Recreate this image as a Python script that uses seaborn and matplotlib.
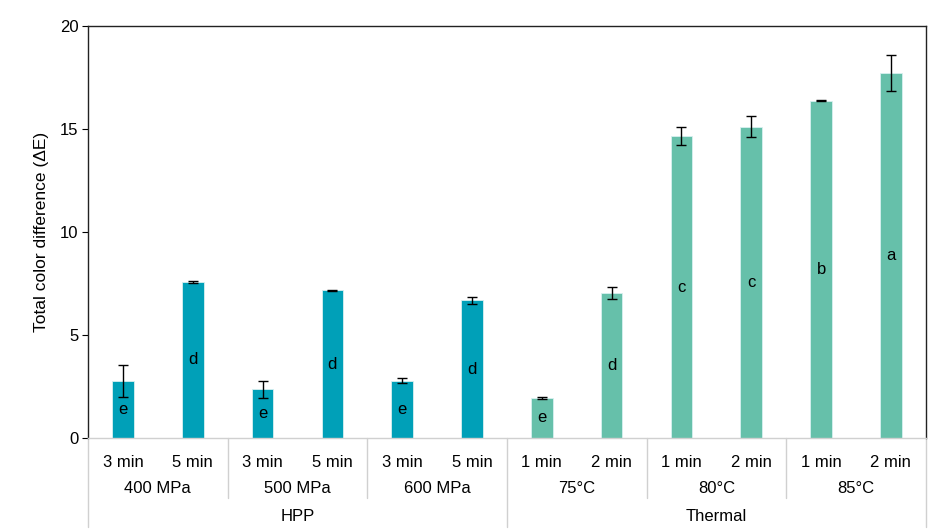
import pandas as pd
import matplotlib.pyplot as plt
import matplotlib.transforms as mtransforms
import seaborn as sns

# -----------------------------------------------
# Data
# -----------------------------------------------
times = ["3 min", "5 min", "3 min", "5 min", "3 min", "5 min",
         "1 min", "2 min", "1 min", "2 min", "1 min", "2 min"]
conditions = ["400 MPa", "500 MPa", "600 MPa", "75°C", "80°C", "85°C"]
methods = ["HPP", "Thermal"]
delta_e = [2.76, 7.59, 2.36, 7.17, 2.78, 6.68,
           1.95, 7.03, 14.66, 15.12, 16.38, 17.73]
sd = [0.77, 0.04, 0.42, 0.03, 0.13, 0.15,
      0.04, 0.29, 0.44, 0.50, 0.03, 0.86]
letters = ["e", "d", "e", "d", "e", "d", "e", "d", "c", "c", "b", "a"]
method_of_bar = ["HPP"] * 6 + ["Thermal"] * 6
colors = {"HPP": "#00A0B8", "Thermal": "#66C0AA"}

df = pd.DataFrame({
    "pos": list(range(len(delta_e))),
    "dE": delta_e,
    "method": method_of_bar,
})

# -----------------------------------------------
# Plot
# -----------------------------------------------
sns.set_style("white")
plt.rcParams["font.family"] = ["Liberation Sans", "DejaVu Sans"]
plt.rcParams["text.color"] = "black"
plt.rcParams["axes.labelcolor"] = "black"
plt.rcParams["xtick.color"] = "black"
plt.rcParams["ytick.color"] = "black"

fig = plt.figure(figsize=(9.33, 5.31), dpi=100)
ax = fig.add_axes([0.0943, 0.175, 0.898, 0.776])

sns.barplot(data=df, x="pos", y="dE", hue="method", palette=colors,
            dodge=False, width=0.31, legend=False, ax=ax, saturation=1,
            edgecolor="#d8f0f0", linewidth=0.6)

ax.errorbar(df["pos"], df["dE"], yerr=sd, fmt="none", ecolor="black",
            elinewidth=1, capsize=3.5, capthick=1, zorder=5)

# significance letters at half bar height
for i, (v, lt) in enumerate(zip(delta_e, letters)):
    ax.text(i, v / 2, lt, ha="center", va="center", fontsize=12)

ax.set_ylim(0, 20)
ax.set_xlim(-0.5, len(delta_e) - 0.5)
ax.set_yticks([0, 5, 10, 15, 20])
ax.tick_params(axis="y", labelsize=12, length=4, width=0.8, direction="out",
               left=True, pad=3)
ax.set_ylabel("Total color difference (ΔE)", fontsize=12.5, labelpad=8)

# frame: dark on three sides, light gray on the bottom
for side in ["left", "top", "right"]:
    ax.spines[side].set_color("#222222")
    ax.spines[side].set_linewidth(1)
ax.spines["bottom"].set_color("#d0d0d0")
ax.spines["bottom"].set_linewidth(1)

# -----------------------------------------------
# Multi-level category axis
# -----------------------------------------------
ax.set_xticks(range(len(times)))
ax.set_xticklabels(times, fontsize=12)
ax.tick_params(axis="x", length=0, pad=12)
ax.set_xlabel("")

trans = mtransforms.blended_transform_factory(ax.transData, ax.transAxes)
for j, cond in enumerate(conditions):
    ax.text(2 * j + 0.5, -0.122, cond, transform=trans, ha="center",
            va="center", fontsize=12)
for k, m in enumerate(methods):
    ax.text(6 * k + 2.5, -0.191, m, transform=trans, ha="center",
            va="center", fontsize=12)

# separators
sep_color = "#d0d0d0"
for b in [1.5, 3.5, 7.5, 9.5]:
    ax.plot([b, b], [0, -0.145], transform=trans, color=sep_color,
            lw=1, clip_on=False)
for b in [-0.5, 5.5, 11.5]:
    ax.plot([b, b], [0, -0.215], transform=trans, color=sep_color,
            lw=1, clip_on=False)

fig.savefig("out.png", dpi=100)
